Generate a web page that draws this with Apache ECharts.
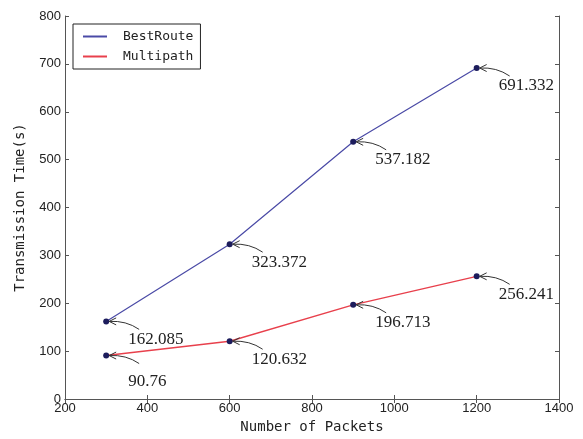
<!DOCTYPE html>
<html>
<head>
<meta charset="utf-8">
<script src="https://cdn.jsdelivr.net/npm/echarts@6/dist/echarts.min.js"></script>
<style>html,body{margin:0;padding:0;background:#fff}#c{width:583px;height:439px}</style>
</head>
<body>
<div id="c"></div>
<script>
var packets = [300, 600, 900, 1200];
var bestRoute = [162.085, 323.372, 537.182, 691.332];
var multipath = [90.76, 120.632, 196.713, 256.241];
var xTicks = [200, 400, 600, 800, 1000, 1200, 1400];
var yTicks = [0, 100, 200, 300, 400, 500, 600, 700, 800];

var blue = '#4a4aa6', red = '#e8404c', marker = '#1c1c5c';
var mono = 'DejaVu Sans Mono', sans = 'Liberation Sans', serif = 'Liberation Serif';

function pairs(ys) { return packets.map(function (x, i) { return [x, ys[i]]; }); }

function annot(dyFirst) {
  return function (params, api) {
    var p = api.coord([api.value(0), api.value(1)]);
    var dy = params.dataIndex === 0 ? dyFirst : 18;
    var tip = [p[0] + 3, p[1]];
    var tail = [p[0] + 33, p[1] + 8];
    return {
      type: 'group',
      children: [
        { type: 'bezierCurve', shape: { x1: tail[0], y1: tail[1], x2: tip[0], y2: tip[1], cpx1: p[0] + 20, cpy1: p[1] - 1 },
          style: { stroke: '#333', lineWidth: 1, fill: null } },
        { type: 'polyline', shape: { points: [[tip[0] + 7, tip[1] - 3.5], tip, [tip[0] + 7, tip[1] + 3.5]] },
          style: { stroke: '#333', lineWidth: 1, fill: null } },
        { type: 'text', x: p[0] + 22, y: p[1] + dy,
          style: { text: String(api.value(1)), font: '17px "' + serif + '"', fill: '#222', verticalAlign: 'middle', align: 'left' } }
      ]
    };
  };
}

var axisLine = { show: true, lineStyle: { color: '#555', width: 1 } };
var tickIn = { show: true, inside: true, length: 4, lineStyle: { color: '#555' } };
function plain(v) { return String(v); }

var chart = echarts.init(document.getElementById('c'));
chart.setOption({
  animation: false,
  grid: { left: 65, right: 24, top: 16, bottom: 40 },
  legend: {
    orient: 'vertical', left: 73, top: 24,
    padding: [6, 7, 6, 10], itemGap: 7,
    itemWidth: 24, itemHeight: 2,
    borderColor: '#222', borderWidth: 1,
    textStyle: { fontFamily: mono, fontSize: 13, color: '#222', padding: [0, 0, 0, 11] },
    data: [
      { name: 'BestRoute', icon: 'rect', itemStyle: { color: blue } },
      { name: 'Multipath', icon: 'rect', itemStyle: { color: red } }
    ]
  },
  xAxis: [{
    type: 'value', min: xTicks[0], max: xTicks[xTicks.length - 1], interval: 200,
    name: 'Number of Packets', nameLocation: 'middle', nameGap: 18,
    nameTextStyle: { fontFamily: mono, fontSize: 14, color: '#222' },
    axisLine: axisLine, axisTick: tickIn, splitLine: { show: false },
    axisLabel: { fontFamily: sans, fontSize: 13, color: '#222', margin: 3, formatter: plain }
  }, {
    type: 'value', position: 'top', min: xTicks[0], max: xTicks[xTicks.length - 1], interval: 200,
    axisLine: axisLine, axisTick: tickIn, splitLine: { show: false }, axisLabel: { show: false }
  }],
  yAxis: [{
    type: 'value', min: yTicks[0], max: yTicks[yTicks.length - 1], interval: 100,
    name: 'Transmission Time(s)', nameLocation: 'middle', nameGap: 38,
    nameTextStyle: { fontFamily: mono, fontSize: 14, color: '#222' },
    axisLine: axisLine, axisTick: tickIn, splitLine: { show: false },
    axisLabel: { fontFamily: sans, fontSize: 13, color: '#222', margin: 4, formatter: plain }
  }, {
    type: 'value', position: 'right', min: yTicks[0], max: yTicks[yTicks.length - 1], interval: 100,
    axisLine: axisLine, axisTick: tickIn, splitLine: { show: false }, axisLabel: { show: false }
  }],
  series: [
    { name: 'BestRoute', type: 'line', data: pairs(bestRoute), symbol: 'circle', symbolSize: 6,
      lineStyle: { color: blue, width: 1.2 }, itemStyle: { color: marker } },
    { name: 'Multipath', type: 'line', data: pairs(multipath), symbol: 'circle', symbolSize: 6,
      lineStyle: { color: red, width: 1.4 }, itemStyle: { color: marker } },
    { name: 'bestAnnot', type: 'custom', data: pairs(bestRoute), renderItem: annot(18), silent: true, z: 5 },
    { name: 'multiAnnot', type: 'custom', data: pairs(multipath), renderItem: annot(26), silent: true, z: 5 }
  ]
});
</script>
</body>
</html>
